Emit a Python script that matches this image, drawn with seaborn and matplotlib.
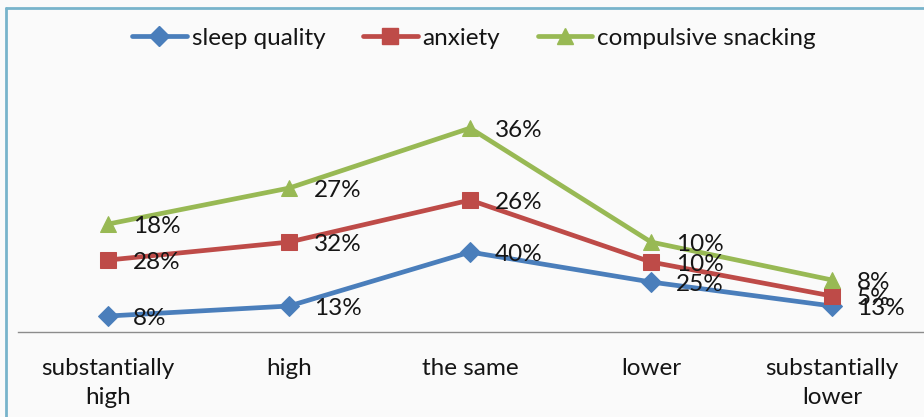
import matplotlib
matplotlib.use("Agg")
import matplotlib.pyplot as plt
import matplotlib.lines as mlines
import seaborn as sns
import numpy as np
import pandas as pd

categories = ["substantially\nhigh", "high", "the same", "lower", "substantially\nlower"]
sleep_quality = [8, 13, 40, 25, 13]
anxiety = [28, 32, 26, 10, 5]
compulsive_snacking = [18, 27, 36, 10, 8]

series_names = ["sleep quality", "anxiety", "compulsive snacking"]
series_values = [sleep_quality, anxiety, compulsive_snacking]
colors = ["#4a7ebb", "#be4b48", "#98b954"]
markers = ["D", "s", "^"]
marker_sizes = [10, 11, 12]

FS = 17.5

sns.set_theme(style="white")
plt.rcParams["font.family"] = ["Lato", "DejaVu Sans"]

# stacked line layout: each series sits on top of the ones before it
stacked = np.cumsum(np.array(series_values, dtype=float), axis=0)

rows = []
for name, raw, top in zip(series_names, series_values, stacked):
    for i, (v, t) in enumerate(zip(raw, top)):
        rows.append({"series": name, "pos": i, "value": v, "stacked": t})
df = pd.DataFrame(rows)

fig = plt.figure(figsize=(9.24, 4.17), dpi=100)
fig.patch.set_facecolor("#fafafa")
ax = fig.add_axes([0.019, 0.2038, 0.9795, 0.628])
ax.set_facecolor("#fafafa")

for name, col, mk, ms in zip(series_names, colors, markers, marker_sizes):
    sub = df[df["series"] == name]
    sns.lineplot(data=sub, x="pos", y="stacked", ax=ax, color=col, linewidth=3.4,
                 marker=mk, markersize=ms, markeredgecolor=col, legend=False)
    for _, r in sub.iterrows():
        ax.annotate(f"{int(r['value'])}%", (r["pos"], r["stacked"]),
                    xytext=(18, -2), textcoords="offset points",
                    ha="left", va="center", fontsize=FS, color="#151515")

ax.set_xlim(-0.5, 4.5)
ax.set_ylim(0, 131)
ax.set_xticks(range(len(categories)))
ax.set_xticklabels(categories, fontsize=FS, color="#151515", linespacing=1.45)
ax.set_yticks([])
ax.set_xlabel("")
ax.set_ylabel("")
ax.tick_params(axis="x", length=0, pad=19)
for side in ["top", "right", "left"]:
    ax.spines[side].set_visible(False)
ax.spines["bottom"].set_color("#8c8c8c")
ax.spines["bottom"].set_linewidth(1.0)

handles = [mlines.Line2D([], [], color=c, marker=m, markersize=s, linewidth=3.4,
                         markeredgecolor=c, label=n)
           for n, c, m, s in zip(series_names, colors, markers, marker_sizes)]
fig.legend(handles=handles, loc="center", bbox_to_anchor=(0.513, 0.908), ncol=3,
           frameon=False, fontsize=FS, handlelength=2.25, handletextpad=0.2,
           columnspacing=1.55, labelcolor="#151515")

# outer frame: top and left edges
fig.add_artist(mlines.Line2D([6 / 924, 6 / 924], [0, 1 - 8 / 417],
                             transform=fig.transFigure, color="#78b4cb", linewidth=2))
fig.add_artist(mlines.Line2D([6 / 924, 1], [1 - 8 / 417, 1 - 8 / 417],
                             transform=fig.transFigure, color="#78b4cb", linewidth=2))

fig.savefig("out.png", dpi=100, facecolor=fig.get_facecolor())
